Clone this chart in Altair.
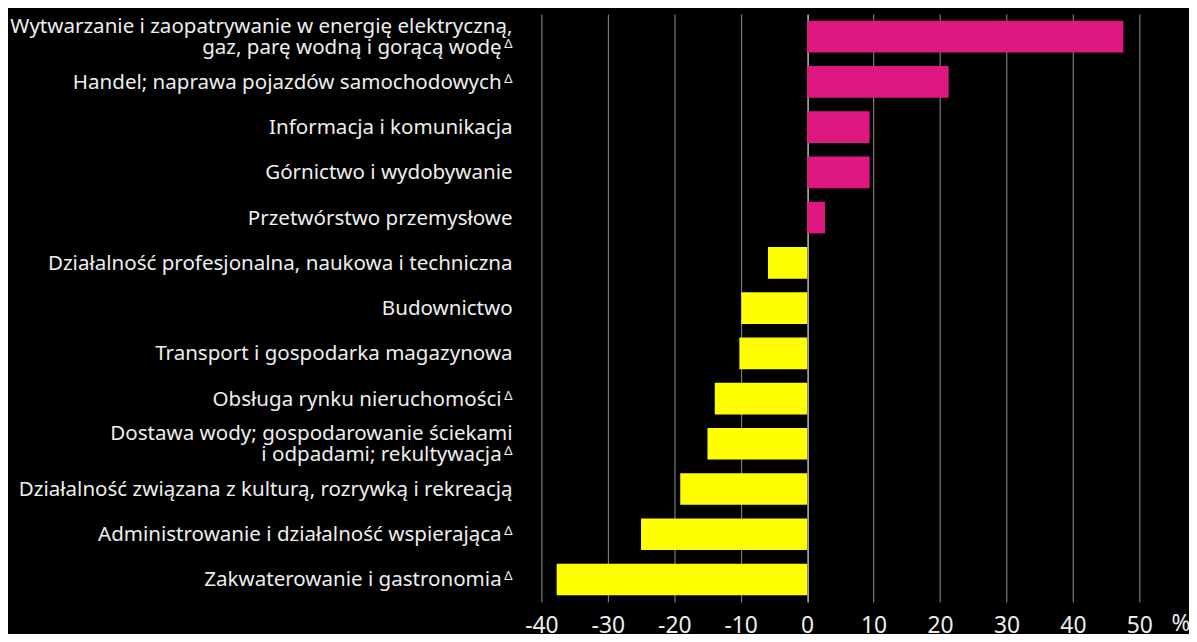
import altair as alt
import pandas as pd

categories = [
    "Wytwarzanie i zaopatrywanie w energię elektryczną,\ngaz, parę wodną i gorącą wodę",
    "Handel; naprawa pojazdów samochodowych",
    "Informacja i komunikacja",
    "Górnictwo i wydobywanie",
    "Przetwórstwo przemysłowe",
    "Działalność profesjonalna, naukowa i techniczna",
    "Budownictwo",
    "Transport i gospodarka magazynowa",
    "Obsługa rynku nieruchomości",
    "Dostawa wody; gospodarowanie ściekami\ni odpadami; rekultywacja",
    "Działalność związana z kulturą, rozrywką i rekreacją",
    "Administrowanie i działalność wspierająca",
    "Zakwaterowanie i gastronomia",
]
values = [47.6, 21.3, 9.4, 9.4, 2.7, -5.9, -9.9, -10.2, -13.9, -15.0, -19.1, -25.0, -37.7]
has_delta = [True, True, False, False, False, False, False, False, True, True, False, True, True]
x_ticks = [-40, -30, -20, -10, 0, 10, 20, 30, 40, 50]

FONT = "Noto Sans"
TXT = "#eeeeee"
FS = 20.7
LH = 21.5

df = pd.DataFrame({
    "cat": categories,
    "value": values,
    "delta": has_delta,
})
df["line1"] = [c.split("\n")[0] for c in categories]
df["line2"] = [c.split("\n")[1] if "\n" in c else "" for c in categories]
df["nlines"] = [c.count("\n") + 1 for c in categories]

yscale = alt.Scale(domain=categories, paddingInner=0.3, paddingOuter=0.15)
Y = alt.Y("cat:N", scale=yscale, axis=None)
base = alt.Chart(df)

bars = base.mark_bar().encode(
    x=alt.X(
        "value:Q",
        scale=alt.Scale(domain=[-40, 50], nice=False, zero=False),
        axis=alt.Axis(
            values=x_ticks,
            grid=True,
            gridColor={"condition": {"test": "datum.value === 0", "value": "#e8e8e8"}, "value": "#7a7a7a"},
            gridWidth=1.2,
            domain=False,
            ticks=False,
            labelFlush=False,
            labelFontSize=23,
            labelFont=FONT,
            labelColor=TXT,
            labelPadding=13,
            labelExpr="datum.value + ''",
            title="%",
            titleFont=FONT,
            titleFontSize=23,
            titleFontWeight="normal",
            titleColor=TXT,
            titleAlign="left",
            titleBaseline="top",
            titleX=634,
            titleY=11,
        ),
    ),
    y=Y,
    color=alt.condition(alt.datum.value > 0, alt.value("#DF1780"), alt.value("#FFFF00")),
)


def text_layer(filt, field, x, dy):
    return base.transform_filter(filt).mark_text(
        align="right", baseline="middle", fontSize=FS, font=FONT, color=TXT, dy=dy,
    ).encode(y=Y, x=alt.value(x), text=f"{field}:N")


t_single = text_layer("datum.nlines == 1 && !datum.delta", "line1", -29, 1)
t_single_d = text_layer("datum.nlines == 1 && datum.delta", "line1", -40, 1)
t_first = text_layer("datum.nlines == 2", "line1", -29, 1 - LH / 2)
t_second = text_layer("datum.nlines == 2 && !datum.delta", "line2", -29, 1 + LH / 2)
t_second_d = text_layer("datum.nlines == 2 && datum.delta", "line2", -40, 1 + LH / 2)


def delta_layer(filt, dy):
    return base.transform_filter(filt).mark_text(
        align="right", baseline="middle", fontSize=13, font=FONT, color=TXT, dy=dy, text="Δ",
    ).encode(y=Y, x=alt.value(-29))


d_single = delta_layer("datum.delta && datum.nlines == 1", -3)
d_second = delta_layer("datum.delta && datum.nlines == 2", -3 + LH / 2)

chart = alt.layer(
    bars, t_single, t_single_d, t_first, t_second, t_second_d, d_single, d_second
).properties(
    width=602,
    height=592,
    background="#000000",
    autosize=alt.AutoSizeParams(type="none"),
    padding={"left": 537, "top": 4, "right": 50, "bottom": 30},
).configure_view(stroke=None)

chart.save("out.html", embed_options={"renderer": "svg", "actions": False})
